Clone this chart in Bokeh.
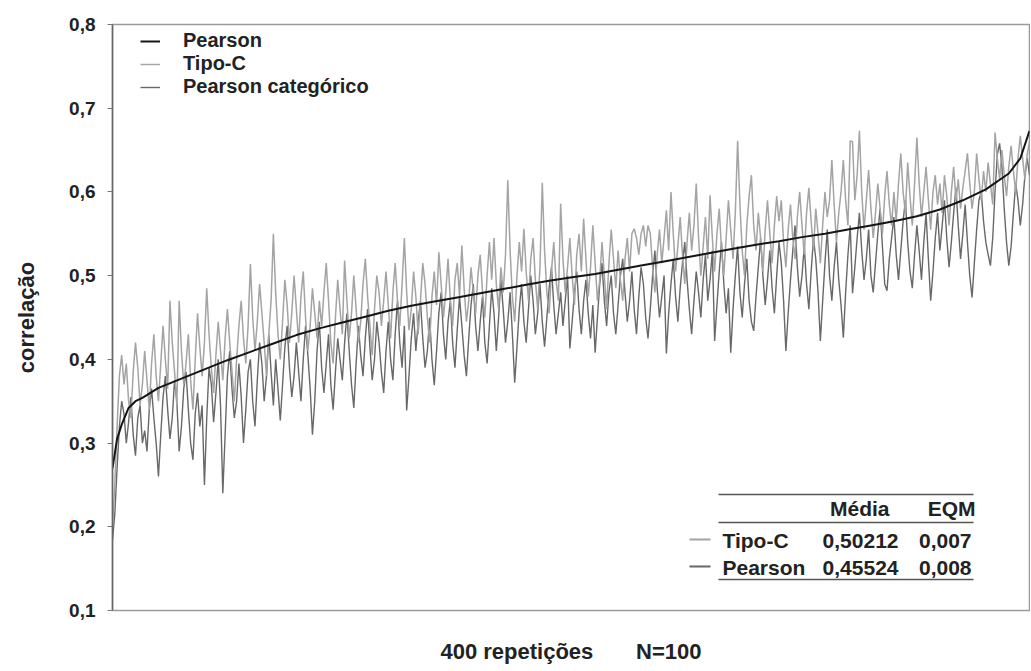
from bokeh.plotting import figure
from bokeh.models import Range1d, FixedTicker, CustomJSTickFormatter, Legend, LegendItem, ColumnDataSource
from bokeh.core.properties import value
from bokeh.embed import file_html
from bokeh.resources import INLINE

FONT = "Liberation Sans"

# ---------------- data (values x1000) ----------------
tipo_c = [
    200, 250, 320, 380, 405, 370, 395, 350, 330, 385, 420, 390, 345, 370, 410, 375, 340, 395, 430, 380,
    350, 395, 440, 400, 365, 470, 420, 385, 345, 470, 410, 370, 395, 430, 375, 340, 400, 455, 415, 380,
    420, 485, 430, 390, 360, 405, 445, 410, 375, 425, 460, 420, 385, 350, 400, 440, 470, 425, 395, 440,
    514, 450, 410, 445, 490, 455, 420, 380, 430, 470, 550, 480, 430, 400, 445, 495, 465, 420, 455, 500,
    460, 420, 475, 505, 450, 410, 440, 485, 455, 425, 470, 440, 480, 515, 470, 420, 395, 450, 495, 460,
    430, 518, 470, 425, 455, 500, 460, 420, 445, 490, 520, 475, 440, 405, 460, 500, 480, 440, 470, 505,
    465, 425, 480, 515, 470, 440, 490, 545, 480, 435, 460, 505, 475, 430, 470, 515, 490, 450, 420, 475,
    505, 465, 528, 490, 450, 480, 520, 470, 440, 495, 515, 475, 536, 485, 445, 470, 510, 480, 455, 500,
    525, 480, 450, 500, 540, 495, 545, 490, 460, 510, 480, 525, 614, 530, 475, 445, 500, 540, 505, 556,
    505, 470, 520, 545, 495, 460, 510, 611, 530, 480, 455, 505, 540, 495, 470, 586, 520, 480, 510, 545,
    500, 465, 525, 550, 505, 568, 520, 475, 510, 560, 515, 470, 495, 540, 500, 460, 515, 555, 520, 485,
    530, 495, 470, 520, 545, 505, 550, 556, 545, 525, 550, 560, 535, 560, 550, 510, 480, 525, 555, 515,
    545, 578, 530, 600, 550, 505, 535, 570, 525, 490, 540, 575, 530, 560, 610, 545, 500, 535, 570, 520,
    596, 545, 505, 550, 580, 530, 500, 545, 590, 555, 520, 575, 661, 585, 530, 500, 560, 595, 620, 560,
    530, 575, 545, 505, 555, 590, 550, 515, 560, 595, 565, 590, 540, 510, 555, 585, 545, 520, 570, 600,
    560, 525, 575, 605, 565, 530, 580, 550, 515, 560, 600, 570, 590, 638, 585, 540, 575, 600, 638, 590,
    560, 661, 660, 590, 620, 673, 600, 555, 590, 626, 580, 545, 575, 610, 580, 550, 595, 625, 585, 560,
    600, 565, 610, 646, 600, 575, 635, 595, 560, 610, 665, 610, 570, 600, 630, 590, 555, 600, 620, 585,
    610, 575, 620, 595, 560, 600, 630, 590, 615, 580, 605, 625, 646, 610, 580, 600, 646, 615, 590, 625,
    600, 635, 610, 585, 671, 640, 615, 650, 620, 595, 630, 655, 625, 600, 640, 667, 640, 615, 645, 660,
]

pearson_categorico = [
    185, 215, 270, 320, 350, 335, 300, 325, 355, 310, 285, 330, 345, 300, 315, 290, 340, 365, 330, 300,
    260, 310, 355, 380, 340, 305, 330, 375, 350, 290, 320, 365, 385, 340, 300, 280, 335, 360, 320, 345,
    250, 330, 390, 370, 325, 360, 400, 345, 240, 310, 380, 410, 365, 330, 350, 395, 355, 300, 340, 385,
    400, 350, 320, 375, 420, 395, 350, 380, 430, 385, 345, 400, 365, 327, 370, 415, 440, 390, 355, 380,
    420, 385, 350, 400, 440, 405, 365, 310, 350, 410, 445, 390, 360, 395, 430, 370, 340, 385, 425, 400,
    375, 420, 455, 410, 370, 342, 395, 440, 405, 380, 425, 460, 415, 375, 400, 445, 420, 385, 360, 410,
    445, 400, 375, 430, 470, 420, 390, 440, 339, 380, 425, 455, 410, 445, 470, 425, 390, 410, 450, 400,
    369, 410, 455, 480, 430, 400, 445, 470, 420, 390, 435, 475, 440, 405, 380, 425, 465, 490, 440, 410,
    445, 475, 420, 395, 440, 485, 455, 410, 450, 495, 460, 420, 445, 480, 430, 372, 415, 460, 490, 445,
    420, 460, 500, 470, 430, 455, 490, 445, 415, 450, 485, 510, 465, 430, 455, 480, 440, 470, 500, 413,
    445, 480, 505, 460, 430, 470, 495, 455, 425, 465, 408, 450, 490, 515, 470, 440, 480, 500, 455, 430,
    465, 500, 520, 480, 445, 470, 505, 460, 430, 475, 510, 490, 450, 425, 460, 500, 530, 485, 450, 475,
    500, 407, 455, 490, 520, 475, 445, 485, 515, 540, 495, 460, 430, 470, 505, 480, 450, 495, 525, 470,
    495, 530, 422, 465, 505, 540, 490, 455, 485, 408, 460, 500, 535, 480, 450, 490, 520, 470, 445, 434,
    475, 510, 545, 500, 465, 495, 530, 485, 455, 500, 540, 515, 470, 410, 455, 495, 530, 560, 510, 475,
    500, 535, 490, 460, 505, 545, 520, 480, 422, 470, 515, 555, 500, 470, 510, 540, 495, 465, 426, 480,
    525, 560, 479, 510, 545, 575, 530, 495, 520, 555, 500, 480, 515, 550, 580, 535, 490, 482, 520, 545,
    570, 525, 495, 530, 565, 590, 540, 505, 485, 525, 560, 530, 495, 540, 575, 520, 470, 505, 545, 575,
    530, 560, 590, 545, 510, 540, 575, 605, 560, 520, 550, 585, 540, 500, 474, 515, 555, 590, 600, 565,
    540, 525, 512, 545, 600, 645, 658, 630, 580, 540, 512, 535, 575, 610, 590, 560, 585, 620, 640, 620,
]

# Pearson (sorted) read at these repetition indices
pearson_idx = [1, 3, 5, 8, 11, 14, 21, 31, 41, 51, 61, 71, 81, 91, 101, 111, 121, 131, 141, 151,
               161, 171, 181, 191, 201, 211, 221, 231, 241, 251, 261, 271, 281, 291, 301, 311, 321,
               331, 341, 351, 361, 371, 381, 391, 396, 400]
pearson_val = [0.270, 0.305, 0.322, 0.342, 0.350, 0.354, 0.366, 0.377, 0.388, 0.399, 0.409, 0.419,
               0.429, 0.437, 0.444, 0.451, 0.458, 0.464, 0.469, 0.474, 0.479, 0.484, 0.489, 0.494,
               0.498, 0.502, 0.507, 0.512, 0.517, 0.522, 0.527, 0.532, 0.537, 0.541, 0.546, 0.550,
               0.555, 0.560, 0.565, 0.571, 0.579, 0.590, 0.603, 0.622, 0.640, 0.673]

y_ticks = [0.1, 0.2, 0.3, 0.4, 0.5, 0.6, 0.7, 0.8]

table_header = ["Média", "EQM"]
table_rows = ["Tipo-C", "Pearson"]
table_media = ["0,50212", "0,45524"]
table_eqm = ["0,007", "0,008"]

# ---------------- figure ----------------
W, H = 1030, 668
p = figure(width=W, height=H, output_backend="svg", toolbar_location=None,
           x_range=Range1d(1, 400), y_range=Range1d(0.1, 0.8),
           min_border_left=112, min_border_right=1, min_border_top=24, min_border_bottom=58)
p.background_fill_color = "white"
p.border_fill_color = "white"
p.grid.visible = False
p.outline_line_color = "#9a9a9a"
p.outline_line_width = 1.5

# page-pixel -> data helpers (frame: x 112..1029, y 24..610)
def dx(X):
    return 1 + (X - 112) / 917 * 399

def dy(Y):
    return 0.8 - (Y - 24) / 586 * 0.7

reps = list(range(1, 401))
C_TIPO = "#a4a4a4"
C_CAT = "#686868"
C_PEAR = "#151515"

r_cat = p.line(reps, [v / 1000 for v in pearson_categorico], line_color=C_CAT, line_width=1.4)
r_tipo = p.line(reps, [v / 1000 for v in tipo_c], line_color=C_TIPO, line_width=1.5)
r_pear = p.line(pearson_idx, pearson_val, line_color=C_PEAR, line_width=2.0)

# x axis: only its title
xa = p.xaxis[0]
xa.ticker = FixedTicker(ticks=[])
xa.axis_line_color = None
xa.major_tick_line_color = None
xa.minor_tick_line_color = None
xa.major_label_text_font_size = "0px"
xa.axis_label = "400 repetições" + "\u00a0" * 7 + "N=100"
xa.axis_label_text_font = FONT
xa.axis_label_text_font_style = "bold"
xa.axis_label_text_font_size = "22px"
xa.axis_label_text_color = "#222222"
xa.axis_label_standoff = 28

# y axis
ax = p.yaxis[0]
ax.ticker = FixedTicker(ticks=y_ticks)
ax.formatter = CustomJSTickFormatter(code="return tick.toFixed(1).replace('.', ',');")
ax.major_label_text_font = FONT
ax.major_label_text_font_style = "bold"
ax.major_label_text_font_size = "19px"
ax.major_label_text_color = "#222222"
ax.major_label_standoff = 12
ax.major_tick_out = 5
ax.major_tick_in = 0
ax.major_tick_line_color = "#777777"
ax.minor_tick_line_color = None
ax.axis_line_color = "#666666"
ax.axis_line_width = 1.5
ax.axis_label = "correlação"
ax.axis_label_text_font = FONT
ax.axis_label_text_font_style = "bold"
ax.axis_label_text_font_size = "22px"
ax.axis_label_text_color = "#222222"
ax.axis_label_standoff = 27

# legend
legend = Legend(items=[LegendItem(label="Pearson", renderers=[r_pear]),
                       LegendItem(label="Tipo-C", renderers=[r_tipo]),
                       LegendItem(label="Pearson categórico", renderers=[r_cat])],
                location=(28, 512), border_line_color=None, background_fill_alpha=0,
                padding=0, margin=0, spacing=0, glyph_width=20, glyph_height=20,
                label_height=20, label_standoff=23,
                label_text_font=FONT, label_text_font_style="bold",
                label_text_font_size="20px", label_text_color="#222222")
p.add_layout(legend)

# summary table (bottom right)
rule_src = ColumnDataSource(dict(x0=[dx(718)] * 3, x1=[dx(973)] * 3,
                                 y0=[dy(494), dy(522), dy(579)], y1=[dy(494), dy(522), dy(579)]))
p.segment("x0", "y0", "x1", "y1", source=rule_src, line_color="#555555", line_width=1.4)
p.segment([dx(689), dx(689)], [dy(539), dy(566)], [dx(710), dx(710)], [dy(539), dy(566)],
          line_color=[C_TIPO, C_CAT], line_width=2)

tstyle = dict(text_font=value(FONT), text_font_style="bold", text_font_size="21px",
              text_color="#222222", text_baseline="middle")
p.text([dx(889), dx(975)], [dy(508), dy(508)], text=table_header, text_align="right", **tstyle)
p.text([dx(722), dx(722)], [dy(540), dy(567)], text=table_rows, text_align="left", **tstyle)
p.text([dx(898), dx(898)], [dy(540), dy(567)], text=table_media, text_align="right", **tstyle)
p.text([dx(971), dx(971)], [dy(540), dy(567)], text=table_eqm, text_align="right", **tstyle)

open("out.html", "w").write(file_html(p, INLINE))
